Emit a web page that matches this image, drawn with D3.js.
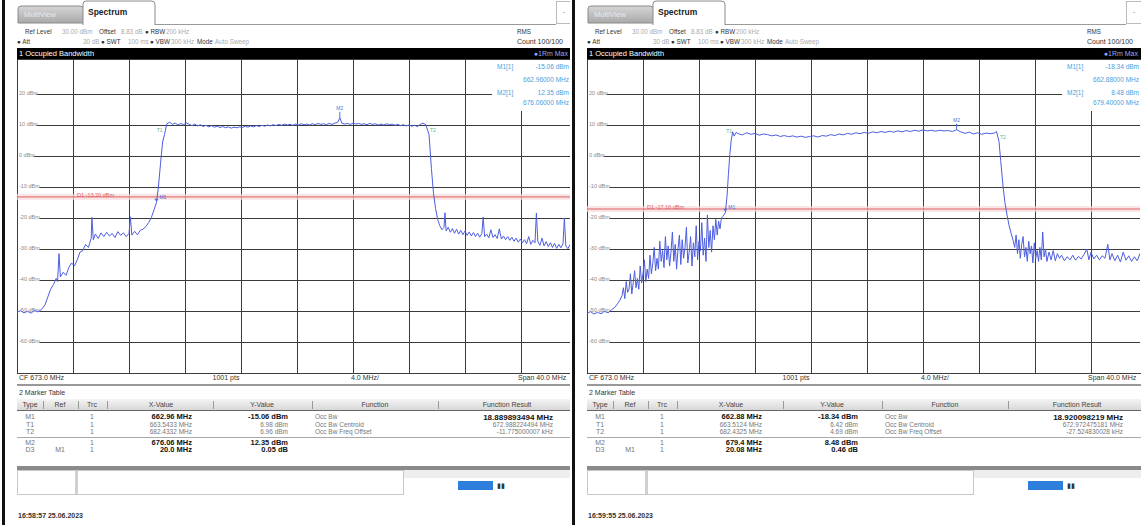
<!DOCTYPE html>
<html><head><meta charset="utf-8">
<script src="https://cdn.jsdelivr.net/npm/d3@7"></script>
<style>body{margin:0;background:#fff;} svg{display:block;} text{font-family:"Liberation Sans",Arial,sans-serif;}</style>
</head><body><svg id="c" width="1141" height="525"></svg>
<script>
// ---------------- data ----------------
const yTickValues = [20, 10, 0, -10, -20, -30, -40, -50, -60];
const yTickLabels = ["20 dBm", "10 dBm", "0 dBm", "-10 dBm", "-20 dBm", "-30 dBm", "-40 dBm", "-50 dBm", "-60 dBm"];
const freqGrid = [653, 657, 661, 665, 669, 673, 677, 681, 685, 689, 693];
const freqDomain = [653, 693];
const levelDomain = [-70, 30];

const traceLeft = [
[653.0,-50.4],[653.25,-49.9],[653.5,-50.6],[653.75,-50.1],[654.0,-50.7],[654.25,-49.8],[654.5,-50.3],[654.75,-49.5],
[655.0,-48.0],[655.2,-45.5],[655.4,-43.0],[655.6,-41.5],[655.8,-39.5],[655.9,-40.5],[656.0,-31.5],[656.1,-39.0],
[656.3,-37.5],[656.5,-38.5],[656.7,-36.0],[656.9,-34.5],[657.1,-35.5],[657.3,-33.5],[657.5,-31.0],[657.7,-30.5],
[657.9,-28.5],[658.1,-29.5],[658.3,-26.5],[658.35,-19.8],[658.45,-27.0],[658.6,-25.2],[658.8,-26.6],[659.0,-24.8],
[659.2,-26.0],[659.4,-24.6],[659.6,-25.8],[659.8,-25.0],[660.0,-26.3],[660.2,-24.4],[660.4,-25.6],[660.6,-24.8],
[660.8,-26.0],[661.0,-25.0],[661.1,-19.6],[661.2,-25.5],[661.4,-24.3],[661.6,-25.4],[661.8,-24.0],[662.0,-23.6],
[662.2,-22.8],[662.4,-21.5],[662.6,-19.8],[662.8,-17.2],[662.96,-15.06],[663.1,-10.0],[663.25,-2.5],[663.4,4.5],
[663.54,6.98],[663.7,10.4],[663.9,10.9],[664.1,10.2],[664.3,10.6],[664.5,10.0],[664.7,10.5],[664.9,10.1],
[665.1,10.7],[665.3,10.2],[665.5,9.8],[665.7,10.3],[665.9,9.7],[666.1,10.1],[666.3,9.5],[666.5,9.9],
[666.7,9.4],[666.9,9.8],[667.1,9.3],[667.3,9.6],[667.5,9.2],[667.7,9.5],[667.9,9.1],[668.1,9.4],
[668.3,9.0],[668.5,9.3],[668.7,9.1],[668.9,9.4],[669.1,9.2],[669.3,9.6],[669.5,9.3],[669.7,9.7],
[669.9,9.4],[670.1,9.8],[670.3,9.5],[670.5,9.9],[670.7,9.6],[670.9,10.0],[671.1,9.7],[671.3,10.1],
[671.5,9.8],[671.7,10.2],[671.9,9.9],[672.1,10.3],[672.3,10.0],[672.5,10.2],[672.7,9.9],[672.9,10.3],
[673.1,10.0],[673.3,10.4],[673.5,10.1],[673.7,10.3],[673.9,10.0],[674.1,10.4],[674.3,10.1],[674.5,10.5],
[674.7,10.2],[674.9,10.4],[675.1,10.1],[675.3,10.5],[675.5,10.2],[675.7,10.6],[675.9,10.8],[676.06,12.35],
[676.2,10.6],[676.4,10.3],[676.6,10.5],[676.8,10.2],[677.0,10.6],[677.2,10.3],[677.4,10.5],[677.6,10.2],
[677.8,10.4],[678.0,10.1],[678.2,10.5],[678.4,10.2],[678.6,10.4],[678.8,10.0],[679.0,10.3],[679.2,10.0],
[679.4,10.4],[679.6,10.1],[679.8,10.3],[680.0,9.9],[680.2,10.2],[680.4,9.8],[680.6,10.1],[680.8,9.7],
[681.0,10.0],[681.2,9.6],[681.4,9.9],[681.6,9.5],[681.8,10.2],[682.0,10.6],[682.2,10.1],[682.43,6.96],
[682.6,-4.0],[682.75,-12.0],[682.9,-17.0],[683.05,-20.5],[683.2,-22.5],[683.35,-23.8],[683.5,-23.0],[683.57,-18.3],
[683.65,-24.2],[683.8,-23.0],[683.95,-24.6],[684.1,-23.4],[684.25,-24.9],[684.4,-23.6],[684.55,-25.2],[684.7,-24.0],
[684.85,-25.4],[685.0,-24.2],[685.15,-25.6],[685.3,-24.5],[685.45,-25.8],[685.6,-24.7],[685.75,-26.0],[685.9,-24.9],
[686.05,-26.2],[686.2,-25.0],[686.3,-19.7],[686.4,-26.0],[686.55,-25.2],[686.7,-26.4],[686.85,-23.8],[687.0,-26.3],
[687.15,-25.4],[687.3,-26.6],[687.45,-23.5],[687.6,-26.8],[687.75,-25.8],[687.9,-27.0],[688.05,-26.0],[688.2,-27.2],
[688.35,-26.2],[688.5,-27.5],[688.65,-26.5],[688.8,-27.8],[688.95,-26.8],[689.1,-28.0],[689.25,-27.0],[689.4,-28.3],
[689.55,-26.0],[689.7,-28.5],[689.85,-27.2],[690.0,-28.0],[690.1,-18.4],[690.2,-27.5],[690.35,-28.8],[690.5,-26.5],
[690.65,-29.0],[690.8,-27.6],[690.95,-29.2],[691.1,-28.0],[691.25,-29.5],[691.4,-28.2],[691.55,-29.8],[691.7,-28.5],
[691.85,-29.6],[692.0,-28.3],[692.1,-20.0],[692.2,-29.0],[692.35,-29.9],[692.5,-28.6],[692.65,-29.7],[692.8,-28.8],[693.0,-29.5]
];

const traceRight = [
[653.0,-50.8],[653.25,-50.2],[653.5,-51.0],[653.75,-50.4],[654.0,-50.9],[654.25,-50.1],[654.5,-50.6],[654.75,-49.6],
[655.0,-48.8],[655.2,-47.5],[655.35,-46.5],[655.5,-45.0],[655.6,-42.5],[655.7,-46.0],[655.8,-40.5],[655.9,-44.0],
[656.0,-43.0],[656.1,-38.0],[656.2,-44.5],[656.3,-41.0],[656.4,-37.0],[656.5,-42.5],[656.6,-39.5],[656.7,-43.0],
[656.8,-35.5],[656.9,-41.0],[657.0,-38.0],[657.1,-33.5],[657.2,-40.5],[657.3,-36.5],[657.4,-39.5],[657.5,-32.0],
[657.6,-38.0],[657.7,-34.5],[657.8,-29.5],[657.9,-37.0],[658.0,-33.0],[658.1,-36.5],[658.2,-27.5],[658.3,-34.0],
[658.4,-30.5],[658.5,-36.0],[658.6,-26.0],[658.7,-33.5],[658.8,-29.0],[658.9,-35.5],[659.0,-31.0],[659.1,-24.5],
[659.2,-34.0],[659.3,-28.5],[659.4,-36.5],[659.5,-30.0],[659.6,-25.5],[659.7,-35.0],[659.8,-27.0],[659.9,-33.0],
[660.0,-29.5],[660.1,-23.0],[660.2,-34.5],[660.3,-31.0],[660.4,-26.0],[660.5,-35.5],[660.6,-28.0],[660.7,-32.5],
[660.8,-22.5],[660.9,-33.5],[661.0,-27.5],[661.1,-30.5],[661.2,-21.5],[661.3,-32.0],[661.4,-26.5],[661.5,-34.0],
[661.6,-19.0],[661.7,-29.5],[661.8,-24.0],[661.9,-31.0],[662.0,-22.5],[662.1,-27.0],[662.2,-20.5],[662.3,-25.5],
[662.4,-21.0],[662.5,-23.5],[662.6,-20.0],[662.7,-19.5],[662.88,-18.34],[663.0,-13.0],[663.1,-6.0],[663.2,0.5],
[663.3,5.0],[663.4,7.8],[663.51,6.42],[663.65,7.6],[663.8,7.2],[664.1,6.8],[664.4,7.5],[664.7,7.0],
[665.0,7.3],[665.3,6.7],[665.6,7.1],[665.9,6.9],[666.2,6.5],[666.5,6.8],[666.8,6.3],[667.1,6.6],
[667.4,6.2],[667.7,6.5],[668.0,6.1],[668.3,6.4],[668.6,6.0],[668.9,6.3],[669.2,6.5],[669.5,6.1],
[669.8,6.6],[670.1,6.4],[670.4,6.9],[670.7,6.6],[671.0,7.1],[671.3,6.8],[671.6,7.3],[671.9,7.0],
[672.2,7.5],[672.5,7.2],[672.8,7.6],[673.1,7.3],[673.4,7.8],[673.7,7.5],[674.0,7.9],[674.3,7.6],
[674.6,8.0],[674.9,7.7],[675.2,8.1],[675.5,7.8],[675.8,8.2],[676.1,7.9],[676.4,8.3],[676.7,8.0],
[677.0,8.4],[677.3,8.1],[677.6,8.3],[677.9,8.0],[678.2,8.3],[678.5,8.1],[678.8,8.2],[679.1,7.9],
[679.4,8.48],[679.7,7.8],[680.0,7.3],[680.3,7.7],[680.6,7.1],[680.9,7.5],[681.2,7.0],[681.5,7.4],
[681.8,7.2],[682.1,7.4],[682.25,7.9],[682.43,4.69],[682.55,-1.5],[682.7,-9.0],[682.85,-15.0],[683.0,-19.0],
[683.15,-22.5],[683.3,-25.0],[683.45,-27.5],[683.55,-29.5],[683.65,-25.5],[683.75,-31.5],[683.85,-27.0],[683.95,-33.0],
[684.05,-28.5],[684.15,-26.0],[684.25,-32.5],[684.35,-29.5],[684.45,-34.0],[684.55,-27.5],[684.65,-31.5],[684.75,-29.0],
[684.85,-34.5],[684.95,-28.0],[685.05,-33.0],[685.15,-30.5],[685.25,-34.0],[685.35,-29.5],[685.45,-33.5],[685.55,-24.5],
[685.65,-32.5],[685.75,-30.0],[685.85,-34.0],[686.0,-31.0],[686.15,-33.5],[686.3,-30.5],[686.45,-33.8],[686.6,-31.5],
[686.75,-33.0],[686.9,-32.0],[687.1,-33.8],[687.3,-32.5],[687.5,-33.5],[687.7,-32.0],[687.9,-33.6],[688.1,-32.4],
[688.3,-33.2],[688.5,-31.8],[688.7,-30.0],[688.85,-33.5],[689.0,-31.0],[689.2,-33.2],[689.4,-32.0],[689.6,-33.5],
[689.8,-32.2],[690.0,-33.0],[690.2,-28.5],[690.35,-33.5],[690.5,-31.5],[690.7,-33.8],[690.9,-32.0],[691.1,-34.2],
[691.3,-31.0],[691.5,-33.6],[691.7,-32.2],[691.9,-34.0],[692.1,-32.5],[692.3,-33.8],[692.5,-31.5],[692.7,-33.5],[693.0,-32.8]
];

const displayLineLeft = -13.2;
const displayLineRight = -17.1;
const displayLabelLeft = "D1 -13.20 dBm";
const displayLabelRight = "D1 -17.10 dBm";

const markersLeft = [
  {name: "M1", f: 662.96, v: -15.06}, {name: "T1", f: 663.54, v: 6.98},
  {name: "T2", f: 682.43, v: 6.96}, {name: "M2", f: 676.06, v: 12.35}
];
const markersRight = [
  {name: "M1", f: 662.88, v: -18.34}, {name: "T1", f: 663.51, v: 6.42},
  {name: "T2", f: 682.43, v: 4.69}, {name: "M2", f: 679.4, v: 8.48}
];
const markerInfoLeft = [["M1[1]", "-15.06 dBm", "662.96000 MHz"], ["M2[1]", "12.35 dBm", "676.06000 MHz"]];
const markerInfoRight = [["M1[1]", "-18.34 dBm", "662.88000 MHz"], ["M2[1]", "8.48 dBm", "679.40000 MHz"]];

const tableHeader = ["Type", "Ref", "Trc", "X-Value", "Y-Value", "Function", "Function Result"];
const tableLeft = [
  ["M1", "", "1", "662.96 MHz", "-15.06 dBm", "Occ Bw", "18.889893494 MHz"],
  ["T1", "", "1", "663.5433 MHz", "6.98 dBm", "Occ Bw Centroid", "672.988224494 MHz"],
  ["T2", "", "1", "682.4332 MHz", "6.96 dBm", "Occ Bw Freq Offset", "-11.775000007 kHz"],
  ["M2", "", "1", "676.06 MHz", "12.35 dBm", "", ""],
  ["D3", "M1", "1", "20.0 MHz", "0.05 dB", "", ""]
];
const tableRight = [
  ["M1", "", "1", "662.88 MHz", "-18.34 dBm", "Occ Bw", "18.920098219 MHz"],
  ["T1", "", "1", "663.5124 MHz", "6.42 dBm", "Occ Bw Centroid", "672.972475181 MHz"],
  ["T2", "", "1", "682.4325 MHz", "4.69 dBm", "Occ Bw Freq Offset", "-27.524830028 kHz"],
  ["M2", "", "1", "679.4 MHz", "8.48 dBm", "", ""],
  ["D3", "M1", "1", "20.08 MHz", "0.46 dB", "", ""]
];
const boldRows = [true, false, false, true, true];
const timestampLeft = "16:58:57 25.06.2023";
const timestampRight = "16:59:55 25.06.2023";

// ---------------- drawing ----------------
const svg = d3.select("#c");
const defs = svg.append("defs");
const tabGrad = defs.append("linearGradient").attr("id", "tabg").attr("x1", 0).attr("y1", 0).attr("x2", 0).attr("y2", 1);
tabGrad.append("stop").attr("offset", "0%").attr("stop-color", "#d6d6d6");
tabGrad.append("stop").attr("offset", "100%").attr("stop-color", "#a9a9a9");
const hdrGrad = defs.append("linearGradient").attr("id", "hdrg").attr("x1", 0).attr("y1", 0).attr("x2", 0).attr("y2", 1);
hdrGrad.append("stop").attr("offset", "0%").attr("stop-color", "#f4f4f4");
hdrGrad.append("stop").attr("offset", "100%").attr("stop-color", "#d8d8d8");

const x = d3.scaleLinear().domain(freqDomain).range([17, 577]);
const y = d3.scaleLinear().domain(levelDomain).range([373, 63]);
const PLOT = {l: 17, r: 570, t: 59, b: 373};

function txt(g, xx, yy, s, o = {}) {
  return g.append("text").attr("x", xx).attr("y", yy).text(s)
    .attr("font-size", o.size || 7).attr("fill", o.fill || "#333")
    .attr("font-weight", o.bold ? "bold" : "normal")
    .attr("text-anchor", o.anchor || "start")
    .attr("dominant-baseline", "middle");
}

function drawPanel(idx, ox, cfg) {
  const cid = "pc" + idx, tid = "tc" + idx;
  defs.append("clipPath").attr("id", cid).append("rect").attr("x", 0).attr("y", 0).attr("width", 571).attr("height", 525);
  defs.append("clipPath").attr("id", tid).append("rect").attr("x", PLOT.l).attr("y", PLOT.t).attr("width", PLOT.r - PLOT.l).attr("height", PLOT.b - PLOT.t);
  const g = svg.append("g").attr("transform", `translate(${ox},0)`).attr("clip-path", `url(#${cid})`);
  g.append("rect").attr("x", 0).attr("y", 0).attr("width", 571).attr("height", 525).attr("fill", "#fff");

  // left black border
  g.append("rect").attr("x", 2).attr("y", 0).attr("width", 3).attr("height", 525).attr("fill", "#111");

  // tabs
  g.append("line").attr("x1", 155).attr("x2", 556).attr("y1", 24.5).attr("y2", 24.5).attr("stroke", "#9a9a9a");
  g.append("path").attr("d", "M18,23 L18,9 Q18,6 21,6 L80,6 Q83,6 84,9 L86,23 Z").attr("fill", "url(#tabg)").attr("stroke", "#8a8a8a");
  txt(g, 24, 15, "MultiView", {size: 7.5, fill: "#e9e9e9"});
  g.append("path").attr("d", "M83,25 L83,4 Q83,1 86,1 L151,1 Q155,1 155,4 L155,25").attr("fill", "#fff").attr("stroke", "#8a8a8a");
  txt(g, 88, 13, "Spectrum", {size: 8.5, bold: true, fill: "#222"});
  g.append("rect").attr("x", 556.5).attr("y", 1.5).attr("width", 16).attr("height", 22).attr("fill", "#fff").attr("stroke", "#bbb");
  txt(g, 563, 12, "-", {size: 7, fill: "#888"});

  // info rows
  const r1 = 32, r2 = 42, fs = 6.3;
  txt(g, 25, r1, "Ref Level", {size: fs});
  txt(g, 62, r1, "30.00 dBm", {size: fs, fill: "#aaa"});
  txt(g, 99, r1, "Offset", {size: fs});
  txt(g, 121, r1, "8.83 dB", {size: fs, fill: "#aaa"});
  txt(g, 145, r1, "\u25CF RBW", {size: fs});
  txt(g, 166, r1, "200 kHz", {size: fs, fill: "#aaa"});
  txt(g, 17, r2, "\u25CF Att", {size: fs});
  txt(g, 83, r2, "30 dB", {size: fs, fill: "#aaa"});
  txt(g, 101, r2, "\u25CF SWT", {size: fs});
  txt(g, 128, r2, "100 ms", {size: fs, fill: "#aaa"});
  txt(g, 150, r2, "\u25CF VBW", {size: fs});
  txt(g, 171, r2, "300 kHz", {size: fs, fill: "#aaa"});
  txt(g, 197, r2, "Mode", {size: fs});
  txt(g, 215, r2, "Auto Sweep", {size: fs, fill: "#aaa"});
  txt(g, 517, r1, "RMS", {size: 6.3});
  txt(g, 517, r2, "Count 100/100", {size: 7});

  // black title bar
  g.append("rect").attr("x", 17).attr("y", 48).attr("width", 560).attr("height", 11).attr("fill", "#000");
  txt(g, 19, 54, "1 Occupied Bandwidth", {size: 7.5, fill: "#fff"});
  txt(g, 568, 54, "\u25CF1Rm Max", {size: 7, fill: "#8fa8ff", anchor: "end"});

  // grid
  const grid = g.append("g");
  grid.selectAll("line.v").data(freqGrid).join("line")
    .attr("x1", d => Math.round(x(d)) + 0.5).attr("x2", d => Math.round(x(d)) + 0.5)
    .attr("y1", PLOT.t).attr("y2", PLOT.b).attr("stroke", "#3c3c3c").attr("stroke-width", 1);
  grid.selectAll("line.h").data(yTickValues).join("line")
    .attr("x1", PLOT.l).attr("x2", PLOT.r)
    .attr("y1", d => Math.round(y(d)) + 0.5).attr("y2", d => Math.round(y(d)) + 0.5)
    .attr("stroke", "#3c3c3c").attr("stroke-width", 1);
  const lab = g.append("g");
  yTickValues.forEach((v, i) => {
    lab.append("rect").attr("x", 18).attr("y", y(v) - 3).attr("width", yTickLabels[i].length * 2.9 + 1).attr("height", 6).attr("fill", "#fff");
    txt(lab, 19, y(v), yTickLabels[i], {size: 5.5, fill: "#888"});
  });
  g.append("rect").attr("x", PLOT.l + 0.5).attr("y", PLOT.t + 0.5).attr("width", 600).attr("height", PLOT.b - PLOT.t)
    .attr("fill", "none").attr("stroke", "#3c3c3c");

  // display line
  const dl = g.append("g").attr("clip-path", `url(#${tid})`);
  dl.append("rect").attr("x", PLOT.l).attr("y", y(cfg.dline) - 3).attr("width", 560).attr("height", 6).attr("fill", "#f7dada").attr("opacity", 0.7);
  dl.append("line").attr("x1", PLOT.l).attr("x2", 577).attr("y1", y(cfg.dline)).attr("y2", y(cfg.dline)).attr("stroke", "#e06060").attr("stroke-width", 1);
  txt(dl, 77, y(cfg.dline) - 1, cfg.dlabel, {size: 5.5, fill: "#e06060"});

  // trace
  const line = d3.line().x(d => x(d[0])).y(d => y(d[1]));
  g.append("g").attr("clip-path", `url(#${tid})`).append("path").datum(cfg.trace)
    .attr("d", line).attr("fill", "none").attr("stroke", "#4d5de0").attr("stroke-width", 1).attr("stroke-linejoin", "round");

  // markers
  cfg.markers.forEach(m => {
    const mx = x(m.f), my = y(m.v);
    const col = m.name[0] === "T" ? "#5fb0a0" : "#4d6ee0";
    if (m.name === "M2") {
      g.append("line").attr("x1", mx).attr("x2", mx).attr("y1", my).attr("y2", my - 6).attr("stroke", col);
      txt(g, mx, my - 9, m.name, {size: 5, fill: col, anchor: "middle"});
    } else if (m.name === "M1") {
      g.append("path").attr("d", `M${mx - 2},${my - 4} L${mx + 2},${my - 4} L${mx},${my - 1} Z`).attr("fill", col);
      txt(g, mx + 3, my - 5, m.name, {size: 5, fill: col});
    } else {
      txt(g, mx + (m.name === "T1" ? -2 : 1), my - 4, m.name, {size: 5, fill: col, anchor: m.name === "T1" ? "end" : "start"});
    }
  });

  // marker info box
  g.append("rect").attr("x", 492).attr("y", 60).attr("width", 80).attr("height", 51).attr("fill", "#fff");
  const infoY = [[67, 80], [93, 103]];
  cfg.info.forEach((r, i) => {
    txt(g, 497, infoY[i][0], r[0], {size: 6.5, fill: "#4a9ee0"});
    txt(g, 569, infoY[i][0], r[1], {size: 6.5, fill: "#4a9ee0", anchor: "end"});
    txt(g, 569, infoY[i][1], r[2], {size: 6.5, fill: "#4a9ee0", anchor: "end"});
  });

  // bottom axis info
  txt(g, 19, 378.5, "CF 673.0 MHz", {size: 7});
  txt(g, 226, 378.5, "1001 pts", {size: 7, anchor: "middle"});
  txt(g, 365, 378.5, "4.0 MHz/", {size: 7, anchor: "middle"});
  txt(g, 518, 378.5, "Span 40.0 MHz", {size: 7});
  g.append("rect").attr("x", 17).attr("y", 384).attr("width", 560).attr("height", 2).attr("fill", "#999");

  // marker table
  txt(g, 19, 393.5, "2 Marker Table", {size: 7});
  g.append("rect").attr("x", 17).attr("y", 399).attr("width", 560).attr("height", 11).attr("fill", "url(#hdrg)");
  g.append("line").attr("x1", 17).attr("x2", 577).attr("y1", 410.5).attr("y2", 410.5).attr("stroke", "#666");
  const hx = [30, 60, 92, 161, 262, 375, 507];
  tableHeader.forEach((h, i) => txt(g, hx[i], 405, h, {size: 7, anchor: "middle", fill: "#444"}));
  [43, 78, 107, 213, 312, 438].forEach(s => g.append("line").attr("x1", s + 0.5).attr("x2", s + 0.5).attr("y1", 401).attr("y2", 409).attr("stroke", "#999"));
  const rowY = [417.5, 425, 432.5, 443, 450.5];
  cfg.table.forEach((r, i) => {
    const b = boldRows[i];
    const dim = "#777";
    txt(g, 30, rowY[i], r[0], {size: 7, anchor: "middle", fill: dim});
    txt(g, 60, rowY[i], r[1], {size: 7, anchor: "middle", fill: dim});
    txt(g, 92, rowY[i], r[2], {size: 7, anchor: "middle", fill: dim});
    txt(g, 192, rowY[i], r[3], {size: b ? 7.5 : 6.5, anchor: "end", bold: b, fill: b ? "#111" : dim});
    txt(g, 288, rowY[i], r[4], {size: b ? 7.5 : 6.5, anchor: "end", bold: b, fill: b ? "#111" : dim});
    txt(g, 315, rowY[i], r[5], {size: 6.5, fill: dim});
    txt(g, 553, rowY[i], r[6], {size: i === 0 ? 8 : 6.5, anchor: "end", bold: i === 0, fill: i === 0 ? "#111" : dim});
  });
  g.append("line").attr("x1", 17).attr("x2", 577).attr("y1", 437.5).attr("y2", 437.5).attr("stroke", "#aaa");
  g.append("rect").attr("x", 17).attr("y", 466).attr("width", 560).attr("height", 4).attr("fill", "#8a8a8a");

  // status / input box
  g.append("rect").attr("x", 17.5).attr("y", 470.5).attr("width", 386).attr("height", 24).attr("fill", "#fff").attr("stroke", "#c8c8c8");
  g.append("rect").attr("x", 75).attr("y", 471).attr("width", 3).attr("height", 23).attr("fill", "#d0d0d0");
  g.append("rect").attr("x", 404).attr("y", 470).attr("width", 170).attr("height", 8).attr("fill", "#eeeeee");
  g.append("rect").attr("x", 458).attr("y", 481).attr("width", 35).attr("height", 9).attr("fill", "#2e7fdc");
  txt(g, 497, 486, "\u25AE\u25AE", {size: 7, fill: "#333"});

  txt(g, 18, 516, cfg.time, {size: 7, bold: true, fill: "#333"});
}

drawPanel(0, 0, {trace: traceLeft, dline: displayLineLeft, dlabel: displayLabelLeft, markers: markersLeft, info: markerInfoLeft, table: tableLeft, time: timestampLeft});
drawPanel(1, 570, {trace: traceRight, dline: displayLineRight, dlabel: displayLabelRight, markers: markersRight, info: markerInfoRight, table: tableRight, time: timestampRight});
</script>
</body></html>
